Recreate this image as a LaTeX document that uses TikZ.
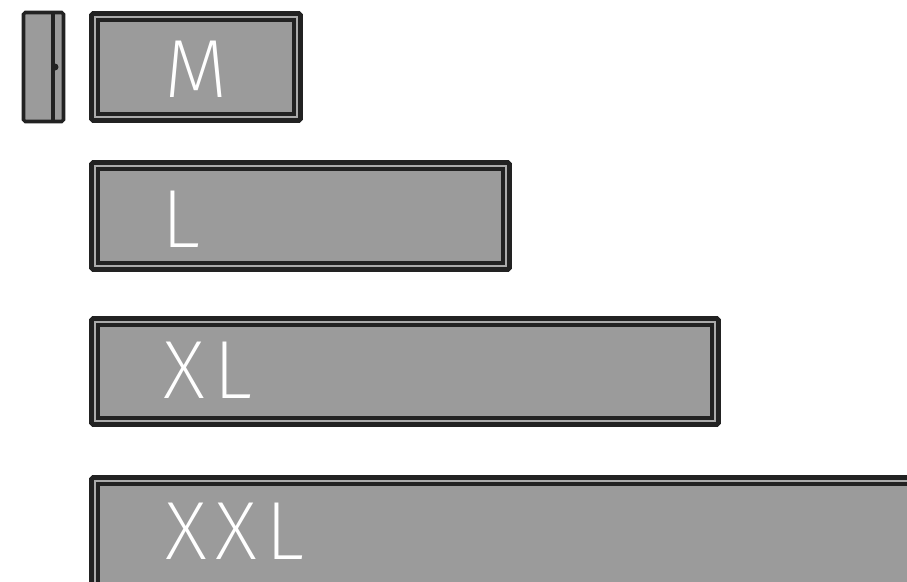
\documentclass[tikz,border=0pt]{standalone}
\usepackage{fontspec}
\newfontfamily\sizefont{Fira Sans}[UprightFont=* ExtraLight, LetterSpace=10]
\usetikzlibrary{positioning}
\definecolor{BoxLine}{HTML}{222222}
\definecolor{BoxFill}{HTML}{9B9B9B}
\definecolor{BoxRing}{HTML}{ABABAB}
\tikzset{
outerbox/.style={draw=BoxLine, fill=BoxRing, line width=2.8pt, rounded corners=1pt},
innerbox/.style={draw=BoxLine, fill=BoxFill, line width=2.2pt},
sizelabel/.style={anchor=base west, inner sep=0pt, text=white, font=\sizefont\fontsize{47}{47}\selectfont}
}
\begin{document}
\begin{tikzpicture}[x=0.02cm, y=-0.02cm]
\useasboundingbox (0,0) rectangle (907,582);
\clip (0,0) rectangle (907,582);
% side view
\draw[outerbox, fill=BoxFill, line width=2pt] (23.5,12.5) rectangle (63.5,121.5);
\draw[BoxLine, line width=2.2pt] (53,12.5) -- (53,121.5);
\fill[BoxLine] (55,67) circle (3.5);
% M
\draw[outerbox] (91.5,13.5) rectangle (300.5,120.5);
\draw[innerbox] (98,20) rectangle (294,114);
\node[sizelabel] (m) at (164,97) {M};
% L
\draw[outerbox] (91.5,162.5) rectangle (509.5,269.5);
\draw[innerbox] (98,169) rectangle (503,263);
\node[sizelabel] (l) at (161,247) {L};
% XL
\draw[outerbox] (91.5,318.5) rectangle (718.5,424.5);
\draw[innerbox] (98,325) rectangle (712,418);
\node[sizelabel] (xl) at (163,398) {XL};
% XXL
\draw[outerbox] (91.5,477.5) rectangle (930,600);
\draw[innerbox] (98,484) rectangle (923,593);
\node[sizelabel] (xxl) at (165,559) {XXL};
\end{tikzpicture}
\end{document}
